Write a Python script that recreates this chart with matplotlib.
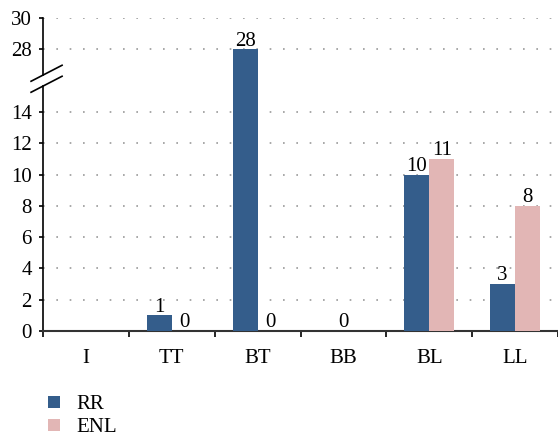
import numpy as np
import matplotlib
matplotlib.use("Agg")
import matplotlib.pyplot as plt
from matplotlib.patches import Patch
from matplotlib.lines import Line2D

categories = ["I", "TT", "BT", "BB", "BL", "LL"]
rr = [np.nan, 1, 28, 0, 10, 3]
enl = [np.nan, 0, 0, np.nan, 11, 8]
series_names = ["RR", "ENL"]
yticks = [0, 2, 4, 6, 8, 10, 12, 14, 28, 30]

RR_COLOR = "#345d8b"
ENL_COLOR = "#e2b6b5"
BREAK_LO, BREAK_HI = 16, 26


def fwd(y):
    y = np.asarray(y, dtype=float)
    return np.where(y <= BREAK_LO, y,
                    np.where(y >= BREAK_HI, y - (BREAK_HI - BREAK_LO), BREAK_LO))


def inv(y):
    y = np.asarray(y, dtype=float)
    return np.where(y <= BREAK_LO, y, y + (BREAK_HI - BREAK_LO))


def main():
    plt.rcParams["font.family"] = ["Liberation Serif", "DejaVu Serif"]
    plt.rcParams["font.size"] = 15

    fig = plt.figure(figsize=(5.58, 4.37), dpi=100)
    ax = fig.add_axes([43 / 558, 106 / 437, 515 / 558, 313 / 437])
    ax.set_yscale("function", functions=(fwd, inv))
    ax.set_ylim(0, 30)
    ax.set_xlim(0, len(categories))

    w = 0.29
    for i, cat in enumerate(categories):
        vals = [rr[i], enl[i]]
        present = [k for k, v in enumerate(vals) if not np.isnan(v)]
        colors = [RR_COLOR, ENL_COLOR]
        for k in present:
            if len(present) == 2:
                x = i + 0.5 + (k - 0.5) * w
            else:
                x = i + 0.5
            ax.bar(x, vals[k], width=w, color=colors[k], zorder=3)
            ax.annotate(str(int(vals[k])), (x, vals[k]), xytext=(0, -1),
                        textcoords="offset points", ha="center", va="bottom",
                        fontsize=15, zorder=4)

    # y axis
    ax.set_yticks(yticks)
    ax.yaxis.grid(True, linestyle=(0, (1, 7)), color="#999999", linewidth=1.2, zorder=0)
    ax.tick_params(axis="y", direction="out", length=3, width=1.2, pad=5, labelsize=15)

    # x axis: boundary ticks, labels centred
    ax.set_xticks(np.arange(len(categories)) + 0.5)
    ax.set_xticklabels(categories)
    ax.set_xticks(np.arange(len(categories) + 1), minor=True)
    ax.tick_params(axis="x", which="major", length=0, pad=13, labelsize=15)
    ax.tick_params(axis="x", which="minor", direction="out", length=4, width=1.2)

    for s in ["top", "right", "left"]:
        ax.spines[s].set_visible(False)
    ax.spines["bottom"].set_linewidth(1.5)
    ax.spines["bottom"].set_color("#333333")

    # broken left axis
    brk = fwd(BREAK_LO) / fwd(30)
    gap_lo = brk - 5.5 / 313
    gap_hi = brk + 5.5 / 313
    ax.add_line(Line2D([0, 0], [0, gap_lo], transform=ax.transAxes, color="black",
                       lw=1.2, clip_on=False))
    ax.add_line(Line2D([0, 0], [gap_hi, 1], transform=ax.transAxes, color="black",
                       lw=1.2, clip_on=False))
    dx = 15.5 / 515
    dy = 8 / 313
    for c in (gap_lo, gap_hi):
        ax.add_line(Line2D([-dx * 0.77, dx * 1.23], [c - dy * 0.77, c + dy * 1.23],
                           transform=ax.transAxes, color="black", lw=1.2,
                           clip_on=False))

    handles = [Patch(facecolor=RR_COLOR), Patch(facecolor=ENL_COLOR)]
    fig.legend(handles, series_names, loc="upper left", bbox_to_anchor=(40 / 558, 1 - 387 / 437),
               frameon=False, handlelength=0.55, handleheight=0.55, handletextpad=0.8,
               labelspacing=0.2, fontsize=15, borderaxespad=0)

    fig.savefig("out.png", dpi=100)


if __name__ == "__main__":
    main()
